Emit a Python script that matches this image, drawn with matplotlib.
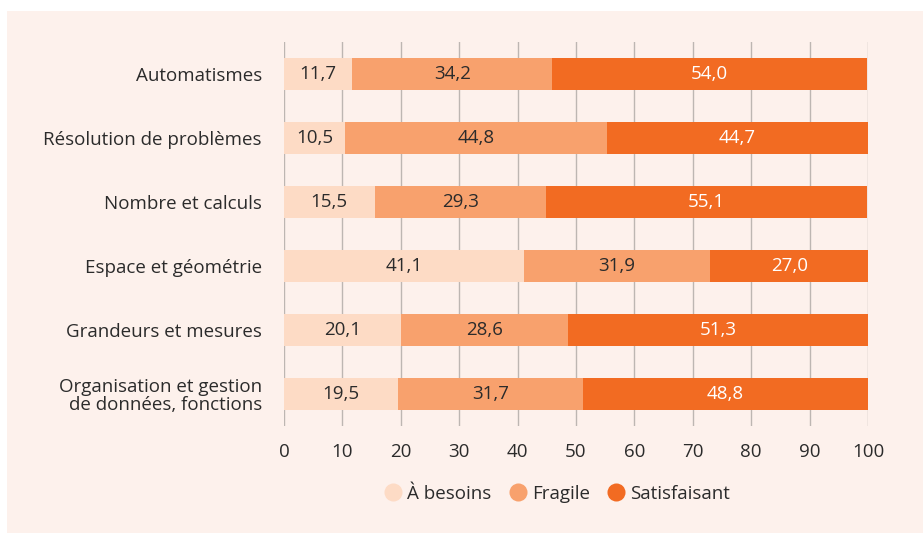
import matplotlib
matplotlib.use("Agg")
import matplotlib.pyplot as plt
from matplotlib.patches import Rectangle
from matplotlib.lines import Line2D

categories = [
    "Automatismes",
    "Résolution de problèmes",
    "Nombre et calculs",
    "Espace et géométrie",
    "Grandeurs et mesures",
    "Organisation et gestion\nde données, fonctions",
]
besoins = [11.7, 10.5, 15.5, 41.1, 20.1, 19.5]
fragile = [34.2, 44.8, 29.3, 31.9, 28.6, 31.7]
satisf = [54.0, 44.7, 55.1, 27.0, 51.3, 48.8]
series_names = ["À besoins", "Fragile", "Satisfaisant"]
xticks = [0, 10, 20, 30, 40, 50, 60, 70, 80, 90, 100]

colors = ["#fddbc5", "#f8a16d", "#f26b22"]
text_colors = ["#2b2b2b", "#2b2b2b", "white"]
bg = "#fdf1ec"
ink = "#2b2b2b"
fs = 13.5

plt.rcParams["font.family"] = ["Open Sans", "DejaVu Sans"]

W, H = 923, 533
fig = plt.figure(figsize=(W / 100, H / 100), dpi=100, facecolor="white")
panel = Rectangle((7 / W, 0), 1 - 7 / W, 1 - 11 / H, transform=fig.transFigure,
                  facecolor=bg, edgecolor="none", zorder=-5)
fig.add_artist(panel)

ax = fig.add_axes([284 / W, 1 - 426 / H, (868 - 284) / W, 384 / H])
ax.set_facecolor("none")

ypos = list(range(len(categories)))
left = [0.0] * len(categories)
for vals, c, tc in zip([besoins, fragile, satisf], colors, text_colors):
    bars = ax.barh(ypos, vals, left=left, height=0.5, color=c, zorder=3)
    for b, v in zip(bars, vals):
        ax.text(b.get_x() + b.get_width() / 2, b.get_y() + b.get_height() / 2,
                f"{v:.1f}".replace(".", ","), ha="center", va="center",
                color=tc, fontsize=fs, zorder=4)
    left = [l + v for l, v in zip(left, vals)]

ax.set_xlim(0, 100)
ax.set_ylim(5.5, -0.5)
ax.set_xticks(xticks)
ax.set_yticks(ypos)
ax.set_yticklabels(categories, fontsize=fs, color=ink, linespacing=1.0)
ax.tick_params(axis="x", length=0, pad=12, labelsize=fs, labelcolor=ink)
ax.tick_params(axis="y", length=0, pad=16)
ax.grid(axis="x", color="#bdb6b2", linewidth=1.0, zorder=0)
for s in ax.spines.values():
    s.set_visible(False)

handles = [Line2D([0], [0], marker="o", linestyle="none", markersize=13,
                  markerfacecolor=c, markeredgecolor="none") for c in colors]
fig.legend(handles, series_names, loc="center",
           bbox_to_anchor=(558 / W, 1 - 494 / H), ncol=3, frameon=False,
           fontsize=fs, handlelength=0.8, handletextpad=0.35,
           columnspacing=1.0, labelcolor=ink)

fig.savefig("out.png", dpi=100, facecolor=fig.get_facecolor())
